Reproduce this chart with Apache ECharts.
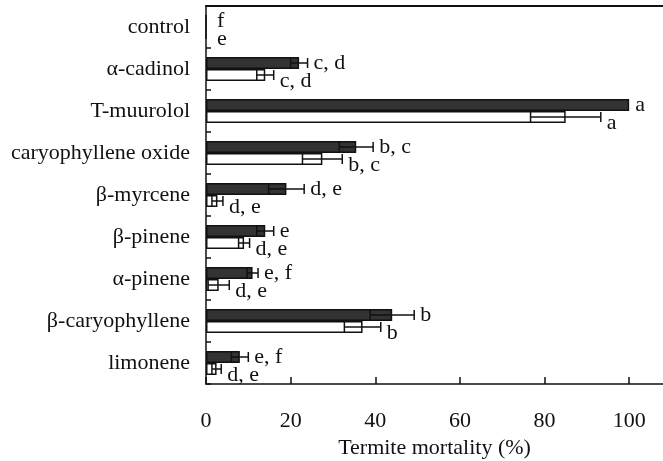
<!DOCTYPE html>
<html>
<head>
<meta charset="utf-8">
<script src="https://cdn.jsdelivr.net/npm/echarts@6/dist/echarts.min.js"></script>
<style>html,body{margin:0;padding:0;background:#fff}#c{width:663px;height:461px}</style>
</head>
<body>
<div id="c"></div>
<script>
var categories = ['control','α-cadinol','T-muurolol','caryophyllene oxide','β-myrcene','β-pinene','α-pinene','β-caryophyllene','limonene'];
var darkMean = [0, 22, 100, 35.5, 19, 14, 11, 44, 8];
var darkSD = [0, 2, 0, 4, 4.2, 2, 1.3, 5.2, 2];
var darkLetters = ['f','c, d','a','b, c','d, e','e','e, f','b','e, f'];
var whiteMean = [0, 14, 85, 27.5, 2.7, 9, 3, 37, 2.5];
var whiteSD = [0, 2, 8.3, 4.7, 1.3, 1.3, 2.5, 4.3, 1.1];
var whiteLetters = ['e','c, d','a','b, c','d, e','d, e','d, e','b','d, e'];
var xTicks = [0, 20, 40, 60, 80, 100];

var FONT = 'Liberation Serif';
var chart = echarts.init(document.getElementById('c'), null, {renderer: 'canvas'});

function errData(means, sds, letters) {
  return means.map(function (m, i) { return [i, m, sds[i], letters[i]]; });
}
var letters = [darkLetters, whiteLetters];
function makeErr(side) {
  return function (params, api) {
    var cat = api.value(0), m = api.value(1), sd = api.value(2);
    var letter = letters[side][params.dataIndex];
    var c = api.coord([m, cat]);
    var y = c[1] + (side === 0 ? -6 : 6);
    var lo = api.coord([Math.max(0, m - sd), cat])[0];
    var hi = api.coord([m + sd, cat])[0];
    var children = [];
    var st = {stroke: '#111', lineWidth: 1.5};
    if (sd > 0) {
      children.push({type: 'line', shape: {x1: lo, y1: y, x2: hi, y2: y}, style: st});
      children.push({type: 'line', shape: {x1: lo, y1: y - 5, x2: lo, y2: y + 5}, style: st});
      children.push({type: 'line', shape: {x1: hi, y1: y - 5, x2: hi, y2: y + 5}, style: st});
    }
    var tx = (sd > 0 ? hi : c[0]) + (m === 0 ? 11 : 6);
    children.push({type: 'text', x: tx, y: y + (side === 0 ? 0 : 6), style: {
      text: letter, fill: '#111', font: '22px "' + FONT + '"', textAlign: 'left', textVerticalAlign: 'middle'
    }});
    return {type: 'group', children: children};
  };
}

chart.setOption({
  animation: false,
  grid: {left: 206, top: 6, right: 0, bottom: 77, outerBoundsMode: 'none', containLabel: false},
  xAxis: [{
    type: 'value', min: 0, max: 108,
    name: 'Termite mortality (%)', nameLocation: 'middle', nameGap: 51,
    nameTextStyle: {fontFamily: FONT, fontSize: 22, color: '#111'},
    axisLine: {show: true, lineStyle: {color: '#111', width: 1.5}},
    axisTick: {show: true, inside: true, length: 7, customValues: xTicks, lineStyle: {color: '#111', width: 1.5}},
    axisLabel: {customValues: xTicks, fontFamily: FONT, fontSize: 22, color: '#111', margin: 26},
    splitLine: {show: false}
  }, {
    type: 'value', min: 0, max: 108, position: 'top',
    axisLine: {show: true, lineStyle: {color: '#111', width: 2}},
    axisTick: {show: false}, axisLabel: {show: false}, splitLine: {show: false}
  }],
  yAxis: {
    type: 'category', data: categories, inverse: true,
    axisLine: {show: true, lineStyle: {color: '#111', width: 1.5}},
    axisTick: {show: true, inside: true, length: 5, lineStyle: {color: '#111', width: 1.5}},
    axisLabel: {fontFamily: FONT, fontSize: 22, color: '#111', margin: 16, padding: [5, 0, 0, 0]},
    splitLine: {show: false}
  },
  series: [{
    type: 'bar', data: darkMean, barWidth: 12, barGap: '0%',
    itemStyle: {color: '#333', borderColor: '#111', borderWidth: 1.5}
  }, {
    type: 'bar', data: whiteMean, barWidth: 12, barGap: '0%',
    itemStyle: {color: '#fff', borderColor: '#111', borderWidth: 1.5}
  }, {
    type: 'custom', renderItem: makeErr(0), encode: {x: 1, y: 0},
    data: errData(darkMean, darkSD, darkLetters), z: 5
  }, {
    type: 'custom', renderItem: makeErr(1), encode: {x: 1, y: 0},
    data: errData(whiteMean, whiteSD, whiteLetters), z: 5
  }]
});
</script>
</body>
</html>
